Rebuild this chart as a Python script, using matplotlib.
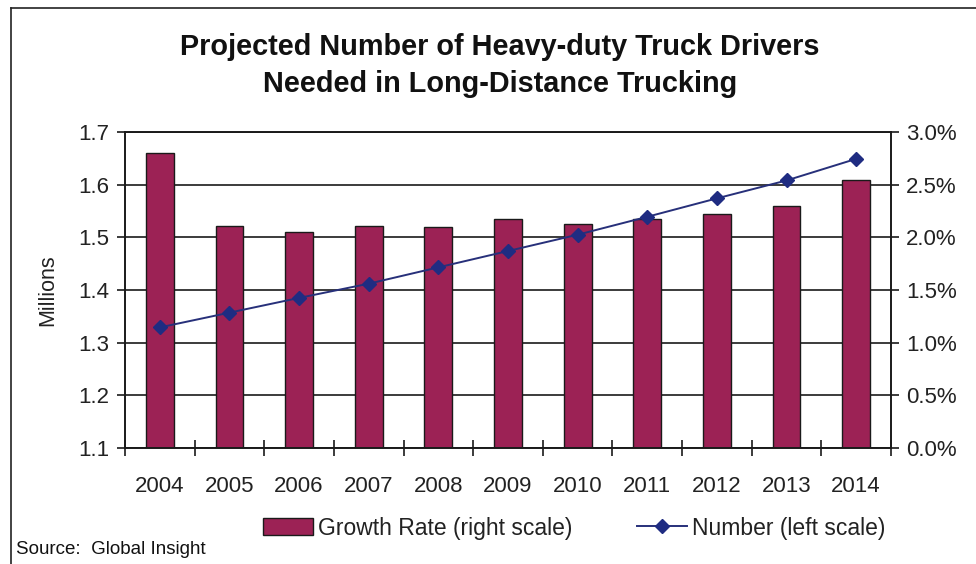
import matplotlib.pyplot as plt
from matplotlib.lines import Line2D
from matplotlib.patches import Patch
from matplotlib.ticker import FixedLocator, FuncFormatter

plt.rcParams['font.family'] = ['Liberation Sans', 'DejaVu Sans']

# Projected driver counts (millions) and annual growth rate (%)
years = ['2004', '2005', '2006', '2007', '2008', '2009',
         '2010', '2011', '2012', '2013', '2014']
growth_rate = [2.80, 2.11, 2.05, 2.11, 2.10, 2.17, 2.13, 2.17, 2.22, 2.30, 2.54]
drivers = [1.329, 1.357, 1.385, 1.412, 1.443, 1.474, 1.505, 1.539, 1.574, 1.608, 1.649]

BAR_COLOR = '#9c2255'
LINE_COLOR = '#27307a'
MARKER_COLOR = '#1f2c82'

W, H = 976, 564
fig = plt.figure(figsize=(W / 100, H / 100), dpi=100)

# plot area in pixel coordinates
left, right, top, bottom = 125, 891, 132, 448
ax_rate = fig.add_axes([left / W, 1 - bottom / H, (right - left) / W, (bottom - top) / H])
ax_num = ax_rate.twinx()

x = list(range(len(years)))

# bars on the right-hand (percent) scale
ax_rate.bar(x, growth_rate, width=0.40, color=BAR_COLOR, edgecolor='#1a1a1a',
            linewidth=1.0, zorder=2)
ax_rate.set_ylim(0, 3.0)
ax_rate.set_xlim(-0.5, len(years) - 0.5)
ax_rate.yaxis.tick_right()
ax_rate.yaxis.set_major_locator(FixedLocator([0, 0.5, 1.0, 1.5, 2.0, 2.5, 3.0]))
ax_rate.yaxis.set_major_formatter(FuncFormatter(lambda v, p: f'{v:.1f}%'))
ax_rate.set_axisbelow(True)
ax_rate.grid(axis='y', color='#1a1a1a', linewidth=1.2)

# line on the left-hand (millions) scale
ax_num.plot(x, drivers, color=LINE_COLOR, linewidth=1.4, marker='D',
            markersize=7, markerfacecolor=MARKER_COLOR, markeredgecolor=MARKER_COLOR)
ax_num.set_ylim(1.1, 1.7)
ax_num.yaxis.tick_left()
ax_num.yaxis.set_label_position('left')
ax_num.yaxis.set_major_locator(FixedLocator([1.1, 1.2, 1.3, 1.4, 1.5, 1.6, 1.7]))
ax_num.yaxis.set_major_formatter(FuncFormatter(lambda v, p: f'{v:.1f}'))

# category labels in the middle, tick marks on the boundaries
ax_rate.set_xticks([i - 0.5 for i in range(len(years) + 1)])
ax_rate.set_xticklabels([])
ax_rate.set_xticks(x, minor=True)
ax_rate.set_xticklabels(years, minor=True)
ax_rate.tick_params(axis='x', which='major', direction='inout', length=12,
                    width=1.2, color='#1a1a1a')
ax_rate.tick_params(axis='x', which='minor', length=0, pad=20,
                    labelsize=16, labelcolor='#222222')

for a in (ax_rate, ax_num):
    a.tick_params(axis='y', direction='out', length=6, width=1.2, color='#1a1a1a',
                  labelsize=16, labelcolor='#222222', pad=5)
    for s in a.spines.values():
        s.set_color('#1a1a1a')
        s.set_linewidth(1.2)

ax_num.set_ylabel('Millions', fontsize=15.5, color='#222222', labelpad=15)
ax_rate.patch.set_facecolor('white')

fig.text(500 / W, 1 - 47 / H, 'Projected Number of Heavy-duty Truck Drivers',
         ha='center', va='center', fontsize=20.8, fontweight='bold', color='#111111')
fig.text(500 / W, 1 - 84 / H, 'Needed in Long-Distance Trucking',
         ha='center', va='center', fontsize=20.8, fontweight='bold', color='#111111')

handles = [Patch(facecolor=BAR_COLOR, edgecolor='#1a1a1a', linewidth=1.0),
           Line2D([], [], color=LINE_COLOR, linewidth=1.4, marker='D', markersize=7,
                  markerfacecolor=MARKER_COLOR, markeredgecolor=MARKER_COLOR)]
fig.legend(handles, ['Growth Rate (right scale)', 'Number (left scale)'],
           loc='center', bbox_to_anchor=(574 / W, 1 - 528 / H), ncol=2,
           frameon=False, fontsize=16.5, handlelength=2.2, handletextpad=0.2,
           columnspacing=2.8, labelcolor='#222222')

fig.text(16 / W, 1 - 549 / H, 'Source:  Global Insight', ha='left', va='center',
         fontsize=13.5, color='#111111')

# outer chart border (left and top edges)
fig.add_artist(Line2D([11 / W, 11 / W], [0, 1 - 8 / H], transform=fig.transFigure,
                      color='#222222', linewidth=1.2))
fig.add_artist(Line2D([11 / W, 1], [1 - 8 / H, 1 - 8 / H], transform=fig.transFigure,
                      color='#222222', linewidth=1.2))

fig.savefig('out.png', dpi=100)
